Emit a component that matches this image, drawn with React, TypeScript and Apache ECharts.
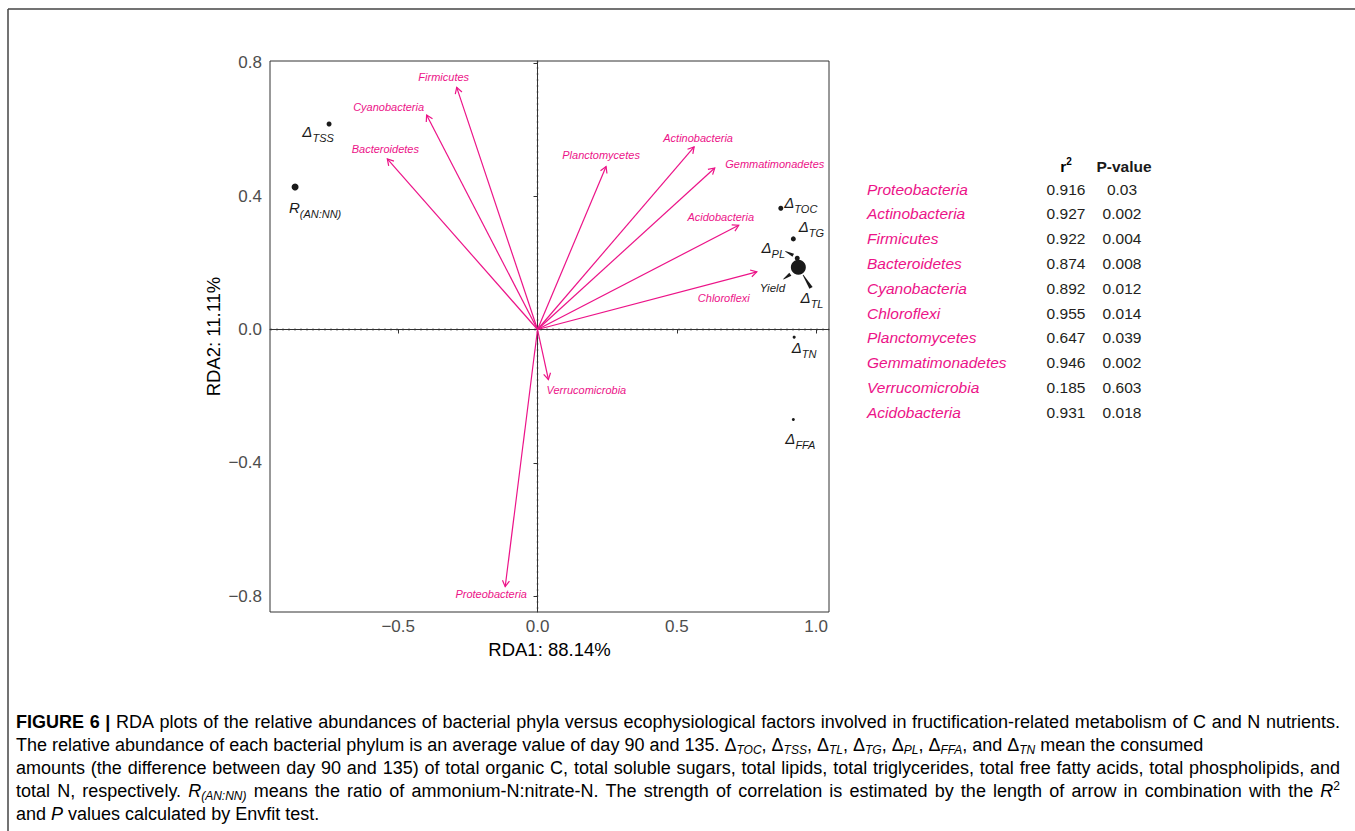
import React, { useEffect, useRef } from "react";
import * as echarts from "echarts";

// ---------- data ----------
const phyla = ["Firmicutes", "Cyanobacteria", "Bacteroidetes", "Planctomycetes", "Actinobacteria", "Gemmatimonadetes", "Acidobacteria", "Chloroflexi", "Verrucomicrobia", "Proteobacteria"];
const phylaRDA1 = [-0.29, -0.398, -0.539, 0.246, 0.562, 0.636, 0.722, 0.787, 0.039, -0.116];
const phylaRDA2 = [0.727, 0.644, 0.512, 0.489, 0.548, 0.485, 0.313, 0.173, -0.15, -0.772];

const factors = ["TSS", "AN:NN", "TOC", "TG", "PL", "Yield", "TL", "TN", "FFA"];
const factorRDA1 = [-0.748, -0.87, 0.873, 0.918, 0.932, 0.936, 0.942, 0.921, 0.918];
const factorRDA2 = [0.617, 0.428, 0.364, 0.272, 0.214, 0.187, 0.185, -0.023, -0.27];

const tableNames = ["Proteobacteria", "Actinobacteria", "Firmicutes", "Bacteroidetes", "Cyanobacteria", "Chloroflexi", "Planctomycetes", "Gemmatimonadetes", "Verrucomicrobia", "Acidobacteria"];
const tableR2 = ["0.916", "0.927", "0.922", "0.874", "0.892", "0.955", "0.647", "0.946", "0.185", "0.931"];
const tableP = ["0.03", "0.002", "0.004", "0.008", "0.012", "0.014", "0.039", "0.002", "0.603", "0.018"];

const xTicks = [-0.5, 0, 0.5, 1.0];
const yTicks = [-0.8, -0.4, 0, 0.4, 0.8];
const xTitle = "RDA1: 88.14%";
const yTitle = "RDA2: 11.11%";

// caption lines: [style, text] segments (n normal, b bold, i italic, s subscript, u superscript)
const captionLines: [string, string][][] = [
  [["b", "FIGURE 6 |"], ["n", " RDA plots of the relative abundances of bacterial phyla versus ecophysiological factors involved in fructification-related metabolism of C and N nutrients."]],
  [["n", "The relative abundance of each bacterial phylum is an average value of day 90 and 135. Δ"], ["s", "TOC"], ["n", ", Δ"], ["s", "TSS"], ["n", ", Δ"], ["s", "TL"], ["n", ", Δ"], ["s", "TG"], ["n", ", Δ"], ["s", "PL"], ["n", ", Δ"], ["s", "FFA"], ["n", ", and Δ"], ["s", "TN"], ["n", " mean the consumed"]],
  [["n", "amounts (the difference between day 90 and 135) of total organic C, total soluble sugars, total lipids, total triglycerides, total free fatty acids, total phospholipids, and"]],
  [["n", "total N, respectively. "], ["i", "R"], ["s", "(AN:NN)"], ["n", " means the ratio of ammonium-N:nitrate-N. The strength of correlation is estimated by the length of arrow in combination with the "], ["i", "R"], ["u", "2"]],
  [["n", "and "], ["i", "P"], ["n", " values calculated by Envfit test."]],
];
const captionJustified = [true, false, true, true, false];

// ---------- layout / style ----------
const FONT = "'Liberation Sans', Arial, Helvetica, sans-serif";
const PINK = "#EC1388";
const INK = "#1a1a1a";
const X_MIN = -0.96, X_MAX = 1.046, Y_MIN = -0.848, Y_MAX = 0.806;
const phylaLabelOffset: Record<string, [number, number]> = {
  Firmicutes: [-13, -10], Cyanobacteria: [-38, -8], Bacteroidetes: [-2, -10], Planctomycetes: [-5, -12],
  Actinobacteria: [4, -9], Gemmatimonadetes: [60, -4], Acidobacteria: [-18, -8], Chloroflexi: [-33, 26],
  Verrucomicrobia: [38, 11], Proteobacteria: [-14, 7],
};
const factorLabel: Record<string, string> = {
  TSS: "{d|Δ}{s|TSS}", "AN:NN": "{d|R}{s|(AN:NN)}", TOC: "{d|Δ}{s|TOC}", TG: "{d|Δ}{s|TG}", PL: "{d|Δ}{s|PL}",
  Yield: "{y|Yield}", TL: "{d|Δ}{s|TL}", TN: "{d|Δ}{s|TN}", FFA: "{d|Δ}{s|FFA}",
};
const factorLabelOffset: Record<string, [number, number]> = {
  TSS: [-11, 8], "AN:NN": [20, 21], TOC: [20, -6], TG: [18, -12], PL: [-24, -11],
  Yield: [-26, 21], TL: [12, 30], TN: [10, 10], FFA: [7, 19],
};
const factorSymbol: Record<string, number> = {
  TSS: 5, "AN:NN": 7, TOC: 5, TG: 5, PL: 5, Yield: 15, TL: 4, TN: 3, FFA: 3,
};
const leaders: Record<string, [[number, number], [number, number], number, number]> = {
  PL: [[-12, -7], [-4, -3], 0.6, 3.4],
  Yield: [[-15, 12], [-8, 7], 0.6, 3.6],
  TL: [[3, 7], [11, 20], 0.8, 3.8],
};

const CAP = { size: 18, sub: 12, sup: 12, left: 16, right: 1340, top: 722, step: 23 };
const capStyles: Record<string, { size: number; italic?: boolean; bold?: boolean; va: string; lh: number }> = {
  n: { size: CAP.size, va: "middle", lh: 22 },
  b: { size: CAP.size, bold: true, va: "middle", lh: 22 },
  i: { size: CAP.size, italic: true, va: "middle", lh: 22 },
  s: { size: CAP.sub, italic: true, va: "bottom", lh: 11 },
  u: { size: CAP.sup, va: "top", lh: 11 },
};

const fmt = (v: number) => (v < 0 ? "\u2212" : "") + Math.abs(v).toFixed(1);

export default function App() {
  const ref = useRef<HTMLDivElement>(null);
  useEffect(() => {
    document.body.style.margin = "0";
    if (!ref.current) return;
    const chart = echarts.init(ref.current, null, { renderer: "svg" });

    const cnv = document.createElement("canvas");
    const ctx = cnv.getContext("2d") as CanvasRenderingContext2D;
    const fontOf = (k: string) => {
      const s = capStyles[k];
      return `${s.italic ? "italic " : ""}${s.bold ? "bold " : ""}${s.size}px ${FONT}`;
    };
    const measure = (k: string, t: string) => {
      ctx.font = fontOf(k);
      return ctx.measureText(t).width;
    };
    const capRich: any = {};
    Object.keys(capStyles).forEach((k) => {
      const s = capStyles[k];
      capRich[k] = {
        fontSize: s.size, fontFamily: FONT, color: "#231f20", lineHeight: s.lh, verticalAlign: s.va,
        fontStyle: s.italic ? "italic" : "normal", fontWeight: s.bold ? "bold" : "normal",
      };
    });

    const graphics: any[] = [
      { type: "line", shape: { x1: 8, y1: 9, x2: 1355, y2: 9 }, style: { stroke: "#444", lineWidth: 1.5 } },
      { type: "line", shape: { x1: 8, y1: 9, x2: 8, y2: 831 }, style: { stroke: "#444", lineWidth: 1.5 } },
    ];

    // caption: split to words, justify selected lines
    captionLines.forEach((segs, li) => {
      const words: [string, string][][] = [[]];
      segs.forEach(([k, t]) => {
        const parts = t.split(" ");
        parts.forEach((p, pi) => {
          if (pi > 0) words.push([]);
          if (p.length) words[words.length - 1].push([k, p]);
        });
      });
      const ws = words.filter((w) => w.length);
      const widths = ws.map((w) => w.reduce((acc, [k, t]) => acc + measure(k, t), 0));
      const total = widths.reduce((a, b) => a + b, 0);
      const spaceW = measure("n", " ");
      const gap = captionJustified[li] && ws.length > 1 ? (CAP.right - CAP.left - total) / (ws.length - 1) : spaceW;
      let x = CAP.left;
      const y = CAP.top + li * CAP.step;
      ws.forEach((w, wi) => {
        graphics.push({
          type: "text", x, y,
          style: { text: w.map(([k, t]) => `{${k}|${t}}`).join(""), rich: capRich, align: "left", verticalAlign: "middle" },
        });
        x += widths[wi] + gap;
      });
    });

    const tableTop = 189;
    const rowH = 24.8;
    const tFont = 15.5;
    graphics.push(
      {
        type: "text", x: 1066, y: 166,
        style: {
          text: "{b|r}{u|2}", align: "center", verticalAlign: "middle",
          rich: {
            b: { fontSize: tFont, fontWeight: "bold", fontFamily: FONT, color: INK, lineHeight: 20, verticalAlign: "middle" },
            u: { fontSize: 10, fontWeight: "bold", fontFamily: FONT, color: INK, lineHeight: 10, verticalAlign: "top" },
          },
        },
      },
      {
        type: "text", x: 1124, y: 166,
        style: { text: "P-value", align: "center", verticalAlign: "middle", fontSize: tFont, fontWeight: "bold", fontFamily: FONT, fill: INK },
      }
    );
    tableNames.forEach((nm, i) => {
      const y = tableTop + i * rowH;
      graphics.push({ type: "text", x: 867, y, style: { text: nm, align: "left", verticalAlign: "middle", fontSize: tFont, fontStyle: "italic", fontFamily: FONT, fill: PINK } });
      graphics.push({ type: "text", x: 1066, y, style: { text: tableR2[i], align: "center", verticalAlign: "middle", fontSize: tFont, fontFamily: FONT, fill: "#231f20" } });
      graphics.push({ type: "text", x: 1122, y, style: { text: tableP[i], align: "center", verticalAlign: "middle", fontSize: tFont, fontFamily: FONT, fill: "#231f20" } });
    });

    const factorRich = {
      d: { fontSize: 15, fontStyle: "italic", fontFamily: FONT, color: INK, lineHeight: 24, verticalAlign: "middle" },
      s: { fontSize: 11, fontStyle: "italic", fontFamily: FONT, color: INK, lineHeight: 12, verticalAlign: "bottom" },
      y: { fontSize: 11.5, fontStyle: "italic", fontFamily: FONT, color: INK, lineHeight: 24, verticalAlign: "middle" },
    };

    const option: any = {
      animation: false,
      grid: { left: 270, top: 61, width: 559, height: 551, show: true, borderColor: "#333", borderWidth: 1, containLabel: false },
      xAxis: {
        type: "value", min: X_MIN, max: X_MAX,
        name: xTitle, nameLocation: "middle", nameGap: 24,
        nameTextStyle: { fontSize: 18.5, fontFamily: FONT, color: "#000" },
        axisLine: { show: true, lineStyle: { color: "#333", width: 1 } },
        axisTick: { show: true, inside: false, length: 4, lineStyle: { color: "#333" }, customValues: xTicks },
        axisLabel: { show: true, margin: 6, fontSize: 17, fontFamily: FONT, color: "#4d4d4d", customValues: xTicks, formatter: (v: number) => fmt(v) },
        splitLine: { show: false },
      },
      yAxis: {
        type: "value", min: Y_MIN, max: Y_MAX,
        name: yTitle, nameLocation: "middle", nameGap: 47,
        nameTextStyle: { fontSize: 18.5, fontFamily: FONT, color: "#000" },
        axisLine: { show: true, lineStyle: { color: "#333", width: 1 } },
        axisTick: { show: true, inside: false, length: 4, lineStyle: { color: "#333" }, customValues: yTicks },
        axisLabel: { show: true, margin: 8, fontSize: 17, fontFamily: FONT, color: "#4d4d4d", customValues: yTicks, formatter: (v: number) => fmt(v) },
        splitLine: { show: false },
      },
      graphic: graphics,
      series: [
        {
          type: "custom",
          name: "zero lines",
          silent: true,
          z: 1,
          data: [[0, 0]],
          renderItem: (params: any, api: any) => {
            const top = api.coord([api.value(0), Y_MAX]);
            const bot = api.coord([api.value(0), Y_MIN]);
            const lft = api.coord([X_MIN, api.value(1)]);
            const rgt = api.coord([X_MAX, api.value(1)]);
            const st = { stroke: "#333", lineWidth: 1.3, lineDash: [2, 4], fill: null };
            return {
              type: "group",
              children: [
                { type: "line", shape: { x1: top[0], y1: top[1], x2: bot[0], y2: bot[1] }, style: st },
                { type: "line", shape: { x1: lft[0], y1: lft[1], x2: rgt[0], y2: rgt[1] }, style: st },
              ],
            };
          },
        },
        {
          type: "custom",
          name: "leaders",
          silent: true,
          z: 2,
          data: factors.map((f, i) => [factorRDA1[i], factorRDA2[i], i]).filter((d) => leaders[factors[d[2]]]),
          renderItem: (params: any, api: any) => {
            const idx = api.value(2);
            const L = leaders[factors[idx]];
            const p = api.coord([api.value(0), api.value(1)]);
            const a = [p[0] + L[0][0], p[1] + L[0][1]];
            const b = [p[0] + L[1][0], p[1] + L[1][1]];
            const dx = b[0] - a[0], dy = b[1] - a[1];
            const len = Math.hypot(dx, dy) || 1;
            const nx = -dy / len, ny = dx / len;
            const w1 = L[2] / 2, w2 = L[3] / 2;
            return {
              type: "polygon",
              shape: { points: [[a[0] + nx * w1, a[1] + ny * w1], [b[0] + nx * w2, b[1] + ny * w2], [b[0] - nx * w2, b[1] - ny * w2], [a[0] - nx * w1, a[1] - ny * w1]] },
              style: { fill: INK },
            };
          },
        },
        {
          type: "custom",
          name: "phyla",
          silent: true,
          z: 3,
          data: phyla.map((p, i) => [phylaRDA1[i], phylaRDA2[i], i]),
          renderItem: (params: any, api: any) => {
            const i = api.value(2);
            const o = api.coord([0, 0]);
            const t = api.coord([api.value(0), api.value(1)]);
            const ang = Math.atan2(t[1] - o[1], t[0] - o[0]);
            const HL = 7, A = Math.PI / 6;
            const h1 = [t[0] - HL * Math.cos(ang - A), t[1] - HL * Math.sin(ang - A)];
            const h2 = [t[0] - HL * Math.cos(ang + A), t[1] - HL * Math.sin(ang + A)];
            const off = phylaLabelOffset[phyla[i]];
            return {
              type: "group",
              children: [
                { type: "line", shape: { x1: o[0], y1: o[1], x2: t[0], y2: t[1] }, style: { stroke: PINK, lineWidth: 1.2 } },
                { type: "polyline", shape: { points: [h1, t, h2] }, style: { stroke: PINK, lineWidth: 1.2, fill: null } },
                {
                  type: "text",
                  style: { text: phyla[i], x: t[0] + off[0], y: t[1] + off[1], fill: PINK, fontSize: 11, fontStyle: "italic", fontFamily: FONT, align: "center", verticalAlign: "middle" },
                },
              ],
            };
          },
        },
        {
          type: "scatter",
          name: "factors",
          silent: true,
          z: 4,
          itemStyle: { color: INK, opacity: 1 },
          label: { show: true, position: "inside", rich: factorRich },
          data: factors.map((f, i) => ({
            value: [factorRDA1[i], factorRDA2[i]],
            symbolSize: factorSymbol[f],
            label: { show: true, position: "inside", formatter: factorLabel[f], offset: factorLabelOffset[f], rich: factorRich },
          })),
        },
      ],
    };
    chart.setOption(option);
    return () => chart.dispose();
  }, []);
  return <div ref={ref} style={{ width: 1355, height: 831 }} />;
}
